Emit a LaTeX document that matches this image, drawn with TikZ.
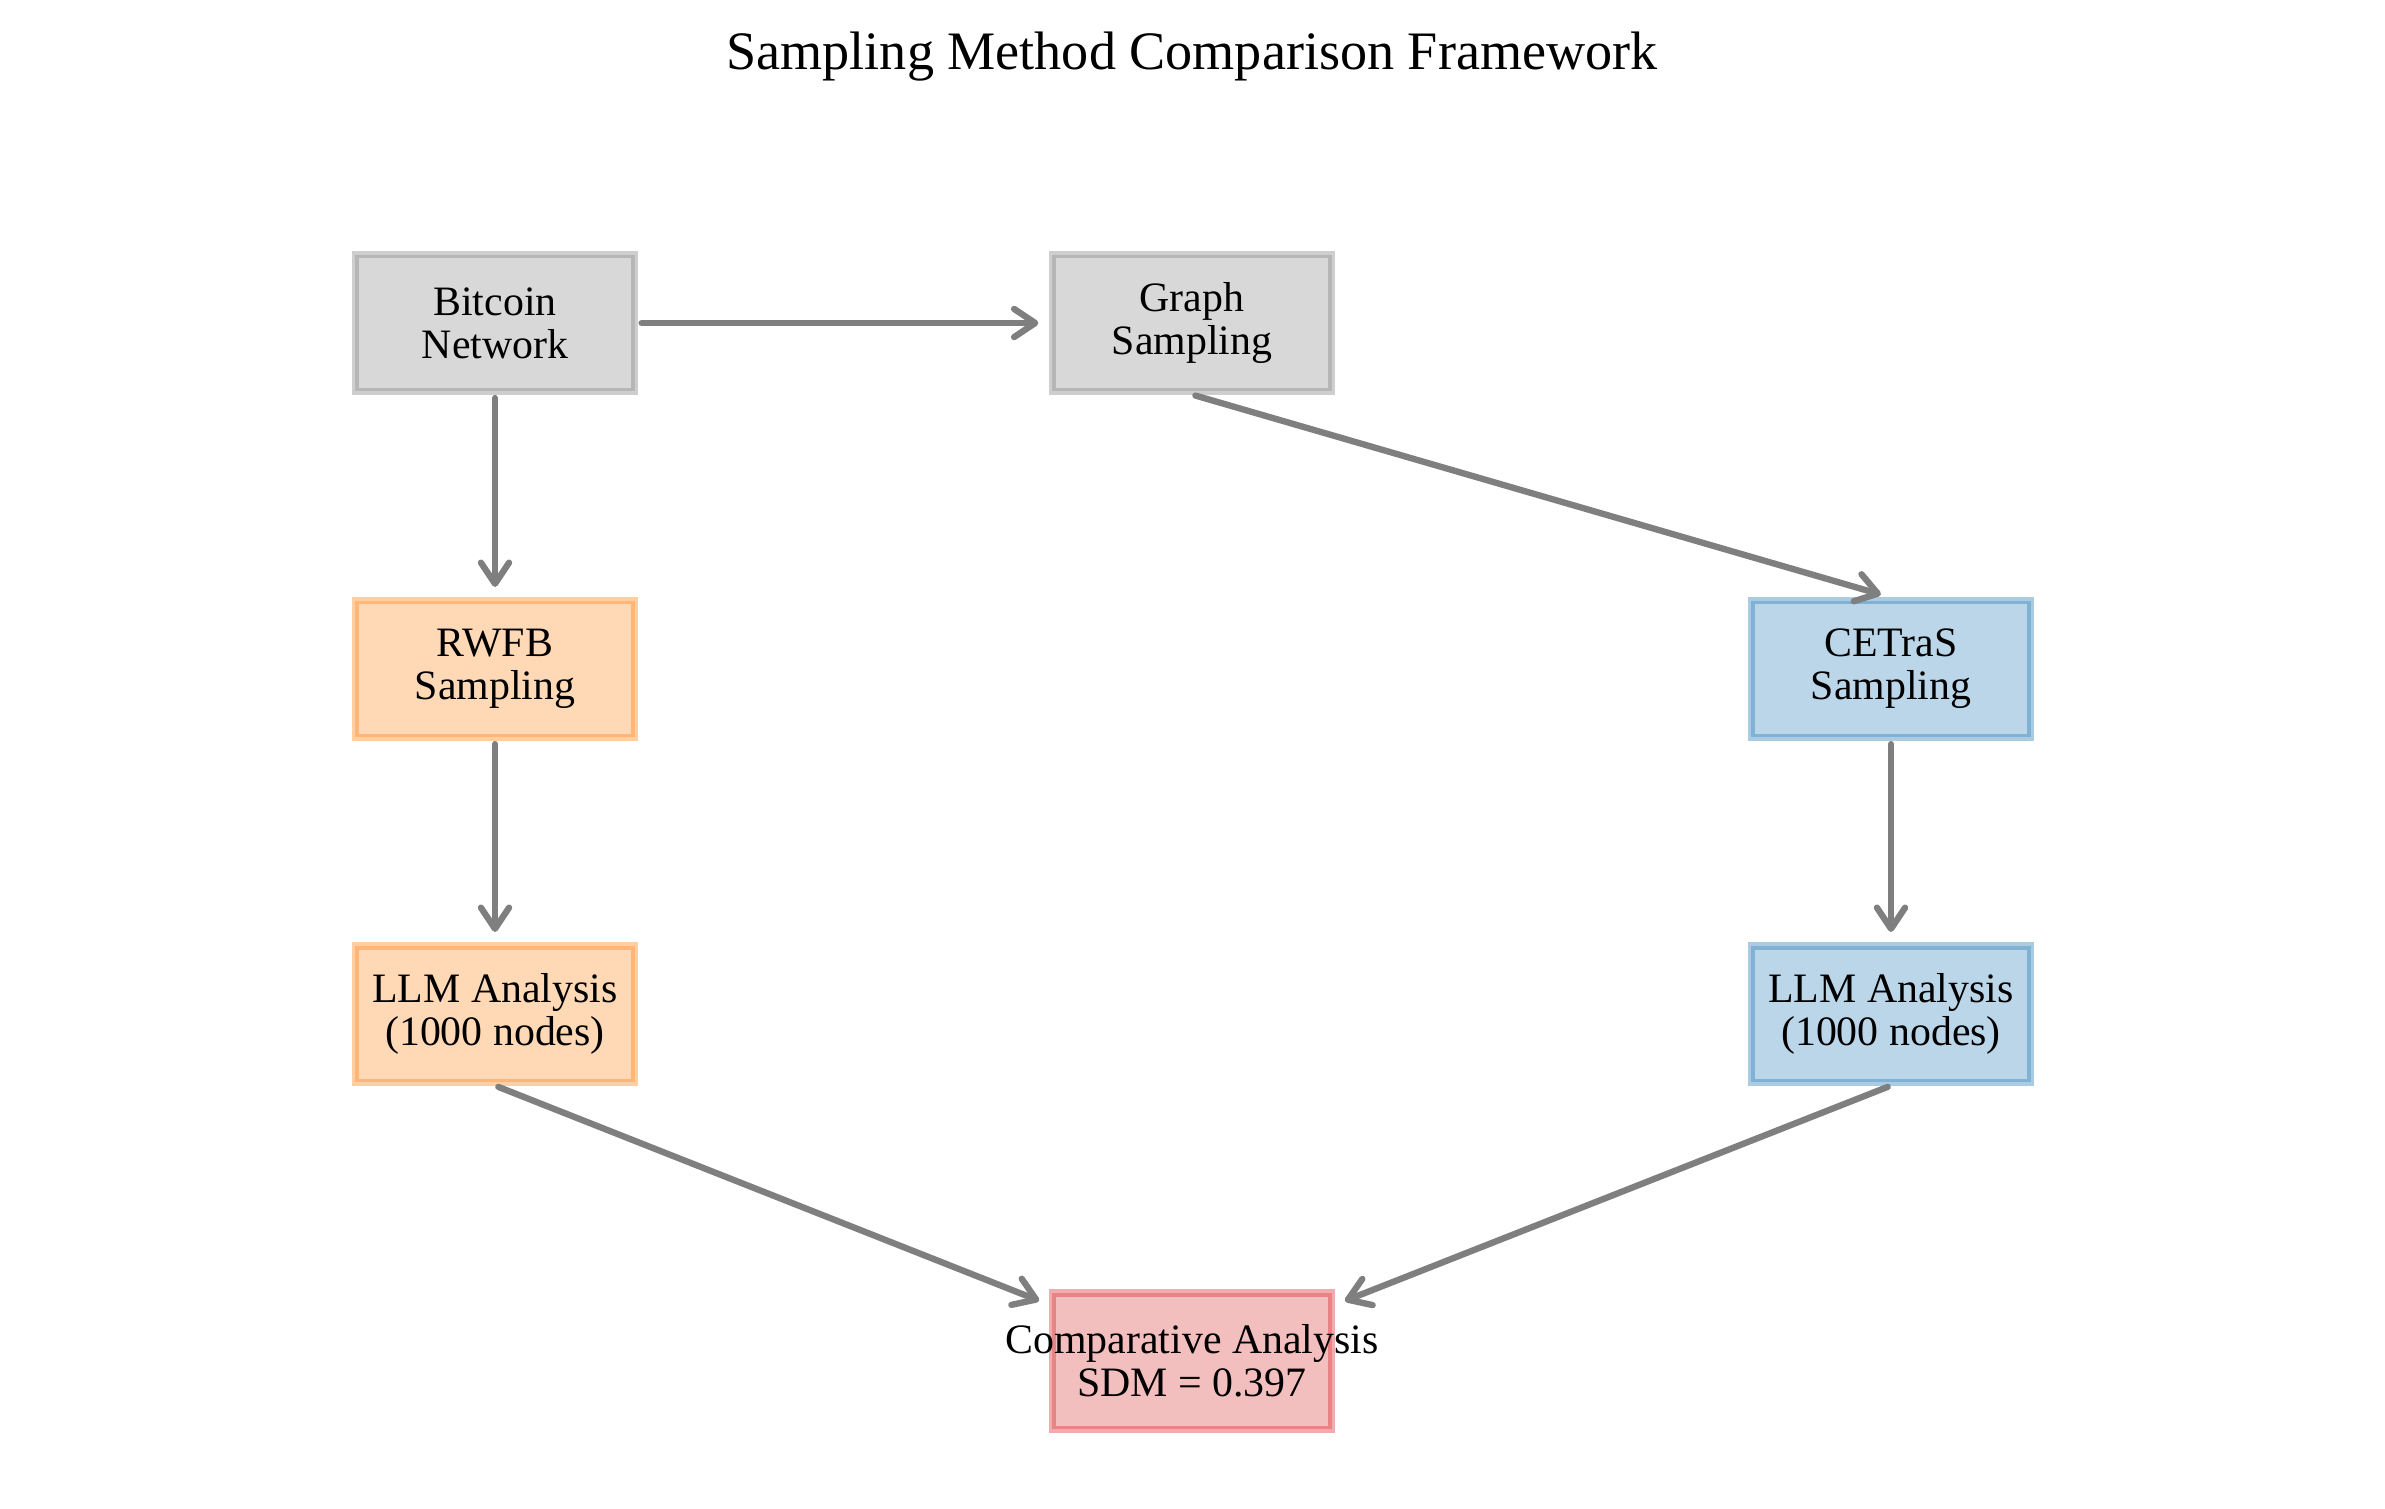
\documentclass[tikz,border=0pt]{standalone}
\usepackage{fontspec}
\setmainfont{Liberation Serif}
\usetikzlibrary{arrows.meta}
\definecolor{cgray}{HTML}{7F7F7F}
\definecolor{corange}{HTML}{FF7F0E}
\definecolor{cblue}{HTML}{1F77B4}
\definecolor{cred}{HTML}{D62728}
\begin{document}
\begin{tikzpicture}[x=0.01cm,y=-0.01cm,
    box/.style={draw=#1,fill=#1,fill opacity=0.3,draw opacity=0.38,text opacity=1,
        line width=2pt,minimum width=2.79cm,minimum height=1.36cm,inner sep=0pt,
        align=center,font=\fontsize{11.9}{12.3}\selectfont},
    flow/.style={-{Straight Barb[length=6pt,width=8pt,round]},line width=1.8pt,
        color=cgray,line cap=round,shorten <=1pt,shorten >=3pt}]
    \useasboundingbox (0,0) rectangle (2385,1508);
    \node[font=\fontsize{15.4}{18}\selectfont] (title) at (1192,57) {Sampling Method Comparison Framework};
    \foreach \n/\x/\y/\c/\t in {bitcoin/495/323/cgray/{Bitcoin\\Network},graph/1192/323/cgray/{Graph\\Sampling},
        rwfb/495/669/corange/{RWFB\\Sampling},cetras/1891/669/cblue/{CETraS\\Sampling},
        llmrwfb/495/1014/corange/{LLM Analysis\\(1000 nodes)},llmcetras/1891/1014/cblue/{LLM Analysis\\(1000 nodes)},
        comp/1192/1361/cred/{\makebox[0pt]{Comparative Analysis}\\SDM = 0.397}}
    {
        \node[box=\c] (\n) at (\x,\y) {\t};
    }
    \foreach \a/\b in {bitcoin/graph,bitcoin/rwfb,graph.south/cetras.north,rwfb/llmrwfb,
        cetras/llmcetras,llmrwfb.south/comp,llmcetras.south/comp}
    {
        \draw[flow] (\a) -- (\b);
    }
\end{tikzpicture}
\end{document}
